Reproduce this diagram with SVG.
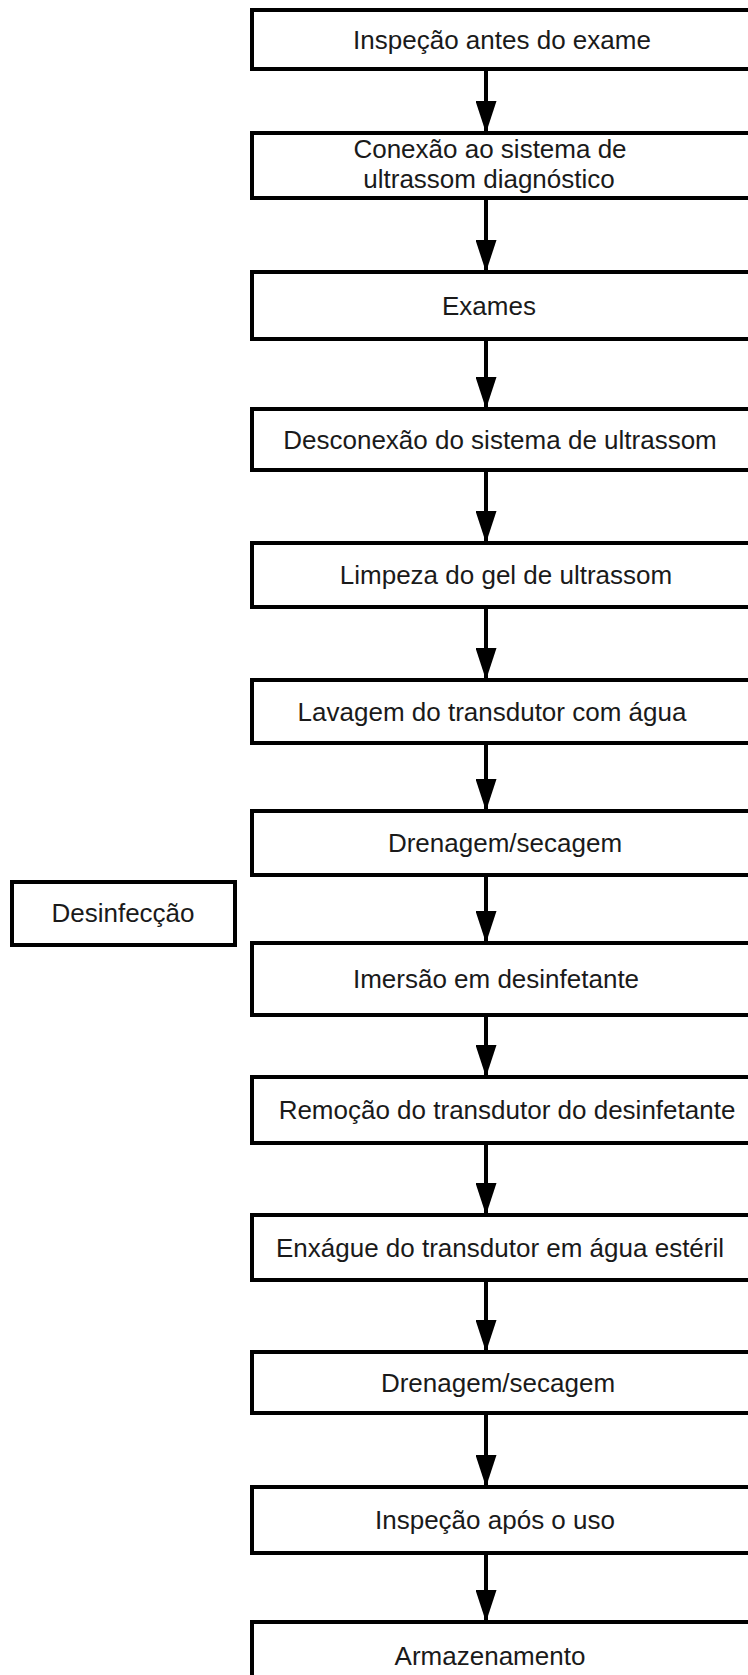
<svg xmlns="http://www.w3.org/2000/svg" width="748" height="1675" viewBox="0 0 748 1675">
<style>
.box{fill:#fff;stroke:#000;stroke-width:4}
.t{font-family:"Liberation Sans",Arial,sans-serif;font-size:26px;fill:#1a1a1a;text-anchor:middle}
.c{stroke:#000;stroke-width:4;fill:none;marker-end:url(#ah)}
</style>
<defs>
<marker id="ah" viewBox="0 0 32 21" refX="32" refY="10.5" markerWidth="32" markerHeight="21" markerUnits="userSpaceOnUse" orient="auto">
<path d="M0,0 L32,10.5 L0,21 z" fill="#000"/>
</marker>
</defs>
<rect width="748" height="1675" fill="#fff"/>
<g id="connectors">
<line class="c" x1="486" y1="69" x2="486" y2="133"/>
<line class="c" x1="486" y1="198" x2="486" y2="272"/>
<line class="c" x1="486" y1="339" x2="486" y2="409"/>
<line class="c" x1="486" y1="470" x2="486" y2="543"/>
<line class="c" x1="486" y1="607" x2="486" y2="680"/>
<line class="c" x1="486" y1="743" x2="486" y2="811"/>
<line class="c" x1="486" y1="875" x2="486" y2="943"/>
<line class="c" x1="486" y1="1015" x2="486" y2="1077"/>
<line class="c" x1="486" y1="1143" x2="486" y2="1215"/>
<line class="c" x1="486" y1="1280" x2="486" y2="1352"/>
<line class="c" x1="486" y1="1413" x2="486" y2="1487"/>
<line class="c" x1="486" y1="1553" x2="486" y2="1622"/>
</g>
<g id="n1"><rect class="box" x="252" y="10" width="520" height="59"/><text class="t" x="502" y="49">Inspeção antes do exame</text></g>
<g id="n2"><rect class="box" x="252" y="133" width="520" height="65"/><text class="t" x="490" y="158">Conexão ao sistema de</text><text class="t" x="489" y="187.5">ultrassom diagnóstico</text></g>
<g id="n3"><rect class="box" x="252" y="272" width="520" height="67"/><text class="t" x="489" y="315">Exames</text></g>
<g id="n4"><rect class="box" x="252" y="409" width="520" height="61"/><text class="t" x="500" y="449">Desconexão do sistema de ultrassom</text></g>
<g id="n5"><rect class="box" x="252" y="543" width="520" height="64"/><text class="t" x="506" y="584">Limpeza do gel de ultrassom</text></g>
<g id="n6"><rect class="box" x="252" y="680" width="520" height="63"/><text class="t" x="492" y="721">Lavagem do transdutor com água</text></g>
<g id="n7"><rect class="box" x="252" y="811" width="520" height="64"/><text class="t" x="505" y="852">Drenagem/secagem</text></g>
<g id="n8"><rect class="box" x="252" y="943" width="520" height="72"/><text class="t" x="496" y="988">Imersão em desinfetante</text></g>
<g id="n9"><rect class="box" x="252" y="1077" width="520" height="66"/><text class="t" x="507" y="1119">Remoção do transdutor do desinfetante</text></g>
<g id="n10"><rect class="box" x="252" y="1215" width="520" height="65"/><text class="t" x="500" y="1257">Enxágue do transdutor em água estéril</text></g>
<g id="n11"><rect class="box" x="252" y="1352" width="520" height="61"/><text class="t" x="498" y="1392">Drenagem/secagem</text></g>
<g id="n12"><rect class="box" x="252" y="1487" width="520" height="66"/><text class="t" x="495" y="1529">Inspeção após o uso</text></g>
<g id="n13"><rect class="box" x="252" y="1622" width="520" height="80"/><text class="t" x="490" y="1665">Armazenamento</text></g>
<g id="desinfeccao"><rect class="box" x="12" y="882" width="223" height="63"/><text class="t" x="123" y="922">Desinfecção</text></g>
</svg>
